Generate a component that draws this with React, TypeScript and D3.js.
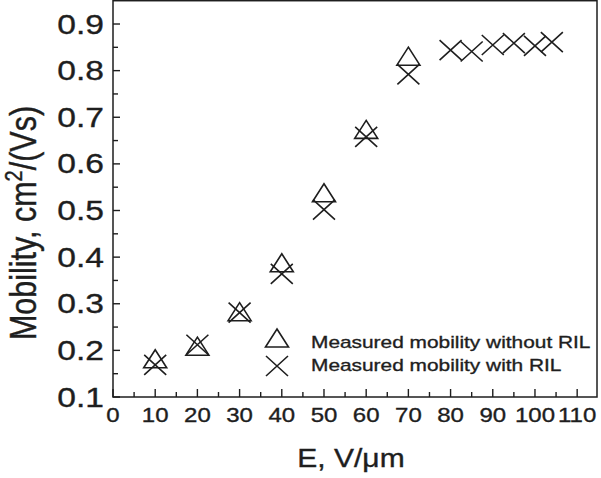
import React from "react";
import * as d3 from "d3";

// axis ticks
const xTicks = [0, 10, 20, 30, 40, 50, 60, 70, 80, 90, 100, 110];
const yTicks = [0.1, 0.2, 0.3, 0.4, 0.5, 0.6, 0.7, 0.8, 0.9];

// measured mobility without RIL (triangles)
const triE = [10, 20, 30, 40, 50, 60, 70];
const triMob = [0.182, 0.209, 0.283, 0.388, 0.538, 0.674, 0.831];

// measured mobility with RIL (crosses)
const crossE = [10, 20, 30, 40, 50, 60, 70, 80, 85, 90, 95, 100, 104];
const crossMob = [0.169, 0.212, 0.281, 0.364, 0.502, 0.658, 0.792, 0.844, 0.841, 0.855, 0.859, 0.853, 0.861];

const legendLabels = ["Measured mobility without RIL", "Measured mobility with RIL"];

const W = 601;
const H = 478;
const ink = "#1e1e1e";
const font = "'Liberation Sans', Arial, Helvetica, sans-serif";
const SX = 1.2; // the original picture is stretched sideways

const x = d3.scaleLinear().domain([0, 114.7]).range([113, 597]);
const y = d3.scaleLinear().domain([0.1, 0.95]).range([397, 0.7]);

function triPath(cx: number, cy: number) {
  const p = d3.path();
  p.moveTo(cx, cy - 9);
  p.lineTo(cx + 11.5, cy + 9);
  p.lineTo(cx - 11.5, cy + 9);
  p.closePath();
  return p.toString();
}

function crossPath(cx: number, cy: number) {
  const p = d3.path();
  p.moveTo(cx - 11, cy - 10);
  p.lineTo(cx + 11, cy + 10);
  p.moveTo(cx - 11, cy + 10);
  p.lineTo(cx + 11, cy - 10);
  return p.toString();
}

export default function App() {
  const [x0, x1] = x.range();
  const [y0, y1] = y.range();
  const xMinor = d3.range(5, 115, 10);
  const yMinor = d3.range(0.15, 0.95, 0.1);

  return (
    <svg
      width={W}
      height={H}
      style={{ position: "absolute", left: 0, top: 0, background: "#fff" }}
      fontFamily={font}
    >
      <rect x={x0} y={y1} width={x1 - x0} height={y0 - y1} fill="none" stroke={ink} strokeWidth={1.5} />

      {/* x ticks */}
      {xTicks.map((t) => (
        <line key={"xt" + t} x1={x(t)} x2={x(t)} y1={y0} y2={y0 - 8} stroke={ink} strokeWidth={1.4} />
      ))}
      {xMinor.map((t) => (
        <line key={"xm" + t} x1={x(t)} x2={x(t)} y1={y0} y2={y0 - 5} stroke={ink} strokeWidth={1.4} />
      ))}

      {/* y ticks */}
      {yTicks.map((t) => (
        <line key={"yt" + t} x1={x0} x2={x0 + 7} y1={y(t)} y2={y(t)} stroke={ink} strokeWidth={1.4} />
      ))}
      {yMinor.map((t) => (
        <line key={"ym" + t} x1={x0} x2={x0 + 5} y1={y(t)} y2={y(t)} stroke={ink} strokeWidth={1.4} />
      ))}

      <g fill={ink} stroke={ink} strokeWidth={0.35}>
        {xTicks.map((t) => (
          <text key={"xl" + t} transform={`translate(${x(t)},422) scale(${SX},1)`} textAnchor="middle" fontSize={20}>
            {t}
          </text>
        ))}
        {yTicks.map((t) => (
          <text key={"yl" + t} transform={`translate(104,${y(t) + 9.5}) scale(${SX},1)`} textAnchor="end" fontSize={28}>
            {t.toFixed(1)}
          </text>
        ))}

        {/* axis titles */}
        <text transform={`translate(351,467) scale(${SX},1)`} textAnchor="middle" fontSize={25}>
          E, V/μm
        </text>
        <text transform={`translate(36,223) rotate(-90) scale(1,${SX})`} textAnchor="middle" fontSize={30.5}>
          <tspan>Mobility, cm</tspan>
          <tspan dy={-12} fontSize={20}>2</tspan>
          <tspan dy={12}>/(Vs)</tspan>
        </text>

        {legendLabels.map((s, i) => (
          <text key={s} transform={`translate(311,${348 + i * 23}) scale(${SX},1)`} fontSize={17.4}>
            {s}
          </text>
        ))}
      </g>

      {/* data */}
      <g fill="none" stroke={ink} strokeWidth={1.6}>
        {triE.map((e, i) => (
          <path key={"tr" + i} d={triPath(x(e), y(triMob[i]))} />
        ))}
        {crossE.map((e, i) => (
          <path key={"cr" + i} d={crossPath(x(e), y(crossMob[i]))} />
        ))}
      </g>

      {/* legend */}
      <g fill="none" stroke={ink} strokeWidth={1.6}>
        <path d={triPath(277, 338)} />
        <path d={crossPath(277, 366)} />
      </g>
    </svg>
  );
}
